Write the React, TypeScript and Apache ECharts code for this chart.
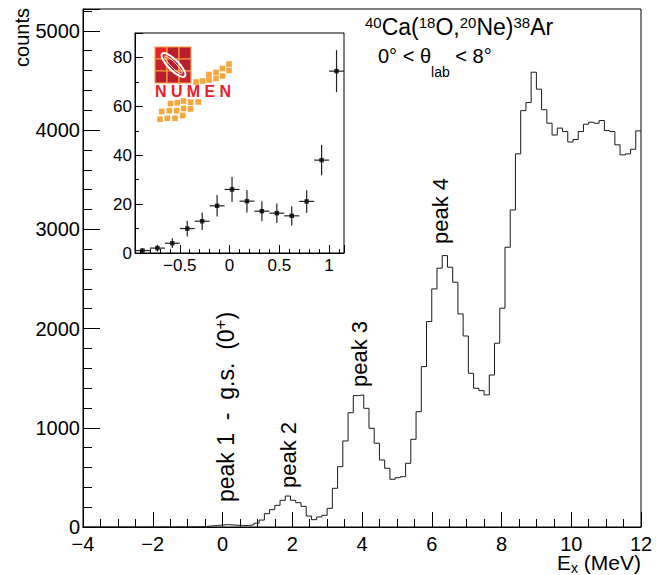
import { useEffect, useRef } from 'react';
import * as echarts from 'echarts';

const FONT = '"Liberation Sans", Arimo, Arial, Helvetica, sans-serif';

// Excitation-energy spectrum: 0.15 MeV bins, first bin starts at HIST_START
const HIST_START = -4.05;
const HIST_BIN = 0.15;
const HIST_COUNTS = [
  0, 0, 0, 0, 0, 0, 0, 0, 0, 0, 0, 0, 0, 0, 0, 1, 0, 0, 1, 0,
  2, 1, 3, 6, 11, 15, 20, 24, 21, 17, 16, 15, 21, 38, 70,
  134, 175, 218, 269, 312, 269, 245, 208, 111, 74, 101, 118,
  188, 390, 608, 867, 1152, 1324, 1331, 1196, 995, 844, 675, 592, 481, 497, 507,
  642, 884, 1162, 1616, 2070, 2399, 2608, 2735, 2618, 2467, 2147, 1925, 1549,
  1398, 1374, 1331, 1532, 1852, 2205, 2819, 3195, 3760, 4196, 4277, 4583,
  4412, 4205, 4069, 3950, 4020, 3985, 3880, 3905, 3985, 4059, 4079, 4069,
  4096, 3995, 3985, 3851, 3750, 3760, 3807, 3992,
];

// Zoom on the ground-state region (inset)
const INSET_START = -0.95;
const INSET_BIN = 0.15;
const INSET_COUNTS = [1, 2, 4, 10, 13, 19.3, 26, 21.2, 17.1, 16.3, 15.2, 21.1, 38, 74.4];
const INSET_ERRORS = [1, 1.4, 2, 3.2, 3.6, 4.4, 5.1, 4.6, 4.1, 4, 3.9, 4.6, 6.2, 8.6];

type Piece = { t: string; s: number; rise?: number };

const TITLE_LINE1: Piece[] = [
  { t: '40', s: 15, rise: 7.5 },
  { t: 'Ca(', s: 23 },
  { t: '18', s: 15, rise: 7.5 },
  { t: 'O,', s: 23 },
  { t: '20', s: 15, rise: 7.5 },
  { t: 'Ne)', s: 23 },
  { t: '38', s: 15, rise: 7.5 },
  { t: 'Ar', s: 23 },
];
const TITLE_LINE2: Piece[] = [
  { t: '0° < θ', s: 20 },
  { t: 'lab', s: 14, rise: -14 },
  { t: ' < 8°', s: 20 },
];
const X_TITLE: Piece[] = [
  { t: 'E', s: 21 },
  { t: 'x', s: 14, rise: -3 },
  { t: ' (MeV)', s: 21 },
];
const Y_TITLE = 'counts';

const PEAK_LABELS: { pieces: Piece[]; cx: number; bottom: number }[] = [
  {
    pieces: [
      { t: 'peak 1  -  g.s.  (0', s: 23 },
      { t: '+', s: 17, rise: 8 },
      { t: ')', s: 23 },
    ],
    cx: 228,
    bottom: 502,
  },
  { pieces: [{ t: 'peak 2', s: 22 }], cx: 290, bottom: 488 },
  { pieces: [{ t: 'peak 3', s: 22 }], cx: 361, bottom: 387 },
  { pieces: [{ t: 'peak 4', s: 22 }], cx: 442, bottom: 244 },
];

let measureCtx: CanvasRenderingContext2D | null = null;
function textWidth(t: string, size: number, weight = 'normal'): number {
  if (!measureCtx) measureCtx = document.createElement('canvas').getContext('2d');
  if (!measureCtx) return t.length * size * 0.55;
  measureCtx.font = `${weight} ${size}px ${FONT}`;
  return measureCtx.measureText(t).width;
}

function runWidth(pieces: Piece[]) {
  return pieces.reduce((w, p) => w + textWidth(p.t, p.s), 0);
}

// Lays out a run of text pieces on a common baseline (super/subscripts via rise)
function runElements(pieces: Piece[], x0: number, baseline: number) {
  const els: any[] = [];
  let x = x0;
  for (const p of pieces) {
    els.push({
      type: 'text',
      x,
      y: baseline - (p.rise ?? 0) - 0.35 * p.s,
      style: {
        text: p.t,
        fontSize: p.s,
        fontFamily: FONT,
        fill: '#000',
        align: 'left',
        verticalAlign: 'middle',
      },
    });
    x += textWidth(p.t, p.s);
  }
  return els;
}

function logoElements() {
  const els: any[] = [];
  const x0 = 155;
  const y0 = 47;
  const cell = 12;
  const cellColors = [
    ['#e4262c', '#b81e2e', '#b81e2e'],
    ['#c8222d', '#b81e2e', '#b81e2e'],
    ['#b81e2e', '#b81e2e', '#c8222d'],
  ];
  for (let r = 0; r < 3; r++) {
    for (let c = 0; c < 3; c++) {
      els.push({
        type: 'rect',
        shape: { x: x0 + c * cell, y: y0 + r * cell, width: cell, height: cell },
        style: { fill: cellColors[r][c], stroke: '#f4a23e', lineWidth: 1.2 },
      });
    }
  }
  els.push({
    type: 'ellipse',
    x: x0 + 18.5,
    y: y0 + 18,
    rotation: -Math.PI / 4,
    shape: { cx: 0, cy: 0, rx: 16, ry: 5.2 },
    style: { fill: 'none', stroke: '#fff', lineWidth: 2 },
  });
  els.push({
    type: 'ellipse',
    x: x0 + 18.5,
    y: y0 + 18,
    rotation: -Math.PI / 4,
    shape: { cx: 0, cy: 0, rx: 12, ry: 2.6 },
    style: { fill: 'none', stroke: '#fff', lineWidth: 0.8 },
  });
  // NUMEN lettering, spread over the logo width
  const letters = ['N', 'U', 'M', 'E', 'N'];
  const fs = 16;
  const widths = letters.map((l) => textWidth(l, fs, '600'));
  const total = widths.reduce((a, b) => a + b, 0);
  const gap = (76 - total) / (letters.length - 1);
  let lx = x0;
  letters.forEach((l, i) => {
    els.push({
      type: 'text',
      x: lx,
      y: 97.5 - 0.35 * fs,
      style: {
        text: l,
        fontSize: fs,
        fontWeight: 600,
        fontFamily: FONT,
        fill: '#e8202a',
        align: 'left',
        verticalAlign: 'middle',
      },
    });
    lx += widths[i] + gap;
  });
  const tiles = [
    [196, 82], [202.5, 81], [209, 80], [216, 78.5], [222.5, 76], [229, 70.5],
    [209, 74.5], [216, 72.5], [222.5, 68.5], [229, 64],
    [170.5, 103.5], [177.3, 102.7], [183.5, 101], [190.7, 102.2], [198.2, 102],
    [161.7, 111.5], [169.3, 110.7], [176.7, 110.7], [183.5, 108.5], [190.5, 109],
    [160, 119.3], [167.3, 118.3], [175, 118.3], [182.7, 115.5],
  ];
  tiles.forEach(([cx, cy]) => {
    els.push({
      type: 'rect',
      shape: { x: cx - 2.8, y: cy - 2.8, width: 5.6, height: 5.6 },
      style: { fill: '#f7a53c' },
    });
  });
  return els;
}

function plainFmt(v: number) {
  return String(v).replace('-', '\u2212');
}

function buildOption() {
  const histData: number[][] = HIST_COUNTS.map((c, i) => [+(HIST_START + i * HIST_BIN).toFixed(4), c]);
  histData.push([+(HIST_START + HIST_COUNTS.length * HIST_BIN).toFixed(4), HIST_COUNTS[HIST_COUNTS.length - 1]]);

  const insetCenters = INSET_COUNTS.map((_, i) => +(INSET_START + (i + 0.5) * INSET_BIN).toFixed(4));
  const insetPoints = INSET_COUNTS.map((c, i) => [insetCenters[i], c]);
  const insetErr = INSET_COUNTS.map((c, i) => [insetCenters[i], c, INSET_ERRORS[i]]);

  const graphics: any[] = [];
  graphics.push(...runElements(TITLE_LINE1, 365, 35));
  graphics.push(...runElements(TITLE_LINE2, 378, 63));
  graphics.push(...runElements(X_TITLE, 641 - runWidth(X_TITLE), 570));
  graphics.push({
    type: 'text',
    x: 22,
    y: 8,
    rotation: Math.PI / 2,
    style: { text: Y_TITLE, fontSize: 20, fontFamily: FONT, fill: '#000', align: 'right', verticalAlign: 'middle' },
  });
  PEAK_LABELS.forEach((lab) => {
    const s = lab.pieces[0].s;
    graphics.push({
      type: 'group',
      x: lab.cx,
      y: lab.bottom,
      rotation: Math.PI / 2,
      children: runElements(lab.pieces, 0, 0.26 * s),
    });
  });
  graphics.push(...logoElements());

  const axisLineStyle = { color: '#000', width: 1 };

  return {
    animation: false,
    backgroundColor: '#fff',
    textStyle: { fontFamily: FONT },
    grid: [
      { left: 83, top: 9, width: 558, height: 518, show: true, borderColor: '#000', borderWidth: 1, backgroundColor: 'transparent' },
      { left: 135, top: 33, width: 209, height: 220, show: true, borderColor: '#000', borderWidth: 1, backgroundColor: '#fff' },
    ],
    xAxis: [
      {
        gridIndex: 0,
        type: 'value',
        min: -4,
        max: 12,
        interval: 2,
        axisLine: { show: true, onZero: false, lineStyle: axisLineStyle },
        axisTick: { show: true, inside: true, length: 15, lineStyle: axisLineStyle },
        minorTick: { show: true, splitNumber: 4, length: 8, lineStyle: axisLineStyle },
        splitLine: { show: false },
        axisLabel: { fontSize: 20, color: '#000', margin: 7, fontFamily: FONT, formatter: plainFmt },
      },
      {
        gridIndex: 1,
        type: 'value',
        min: INSET_START,
        max: +(INSET_START + INSET_COUNTS.length * INSET_BIN).toFixed(4),
        splitNumber: 5,
        axisLine: { show: true, onZero: false, lineStyle: axisLineStyle },
        axisTick: { show: true, inside: true, length: 8, lineStyle: axisLineStyle },
        minorTick: { show: true, splitNumber: 5, length: 4, lineStyle: axisLineStyle },
        splitLine: { show: false },
        axisLabel: {
          fontSize: 17,
          color: '#000',
          margin: 4,
          fontFamily: FONT,
          showMinLabel: false,
          showMaxLabel: false,
          formatter: plainFmt,
        },
      },
    ],
    yAxis: [
      {
        gridIndex: 0,
        type: 'value',
        min: 0,
        max: 5220,
        interval: 1000,
        axisLine: { show: true, onZero: false, lineStyle: axisLineStyle },
        axisTick: { show: true, inside: true, length: 17, lineStyle: axisLineStyle },
        minorTick: { show: true, splitNumber: 5, length: 9, lineStyle: axisLineStyle },
        splitLine: { show: false },
        axisLabel: { fontSize: 20, color: '#000', margin: 3, fontFamily: FONT, showMaxLabel: false, formatter: plainFmt },
      },
      {
        gridIndex: 1,
        type: 'value',
        min: 0,
        max: 90,
        interval: 20,
        axisLine: { show: true, onZero: false, lineStyle: axisLineStyle },
        axisTick: { show: true, inside: true, length: 8, lineStyle: axisLineStyle },
        minorTick: { show: true, splitNumber: 2, length: 4, lineStyle: axisLineStyle },
        splitLine: { show: false },
        axisLabel: { fontSize: 17, color: '#000', margin: 3, fontFamily: FONT, showMaxLabel: false, formatter: plainFmt },
      },
    ],
    series: [
      {
        type: 'line',
        xAxisIndex: 0,
        yAxisIndex: 0,
        step: 'end',
        data: histData,
        showSymbol: false,
        symbol: 'none',
        clip: true,
        lineStyle: { color: '#1a1a1a', width: 1 },
        silent: true,
      },
      {
        type: 'custom',
        xAxisIndex: 1,
        yAxisIndex: 1,
        data: insetErr,
        silent: true,
        z: 3,
        renderItem: (_params: any, api: any) => {
          const x = api.value(0);
          const y = api.value(1);
          const e = api.value(2);
          const top = api.coord([x, y + e]);
          const bot = api.coord([x, Math.max(0, y - e)]);
          const left = api.coord([x - INSET_BIN / 2, y]);
          const right = api.coord([x + INSET_BIN / 2, y]);
          const style = { stroke: '#222', lineWidth: 1.2 };
          return {
            type: 'group',
            children: [
              { type: 'line', shape: { x1: top[0], y1: top[1], x2: bot[0], y2: bot[1] }, style },
              { type: 'line', shape: { x1: left[0], y1: left[1], x2: right[0], y2: right[1] }, style },
            ],
          };
        },
      },
      {
        type: 'scatter',
        xAxisIndex: 1,
        yAxisIndex: 1,
        data: insetPoints,
        symbol: 'rect',
        symbolSize: 4.5,
        itemStyle: { color: '#000' },
        silent: true,
        z: 4,
      },
    ],
    graphic: { elements: graphics },
  };
}

export default function App() {
  const ref = useRef<HTMLDivElement>(null);
  useEffect(() => {
    document.body.style.margin = '0';
    if (!ref.current) return;
    const chart = echarts.init(ref.current, undefined, { renderer: 'svg' });
    chart.setOption(buildOption() as any);
    return () => chart.dispose();
  }, []);
  return <div ref={ref} style={{ width: 656, height: 575 }} />;
}
